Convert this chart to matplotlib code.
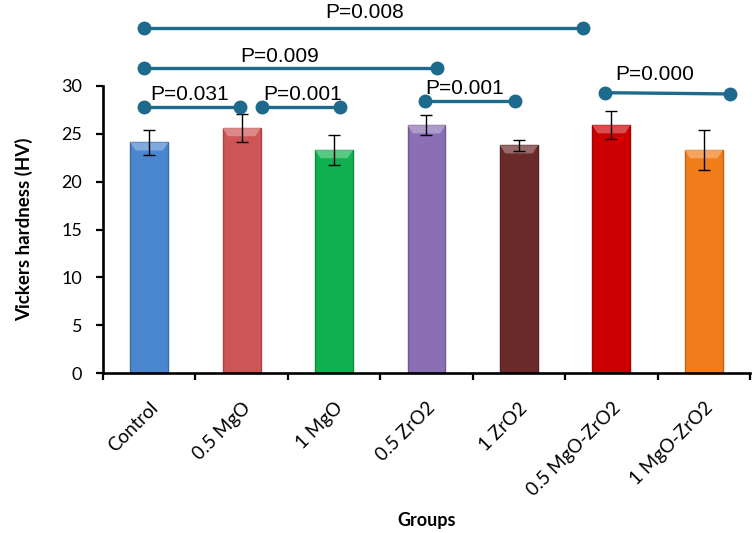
import matplotlib
matplotlib.use("Agg")
import matplotlib.pyplot as plt
from matplotlib.colors import to_rgb
from matplotlib.patches import Polygon

# values
groups = ["Control", "0.5 MgO", "1 MgO", "0.5 ZrO2", "1 ZrO2", "0.5 MgO-ZrO2", "1 MgO-ZrO2"]
hardness = [24.1, 25.6, 23.3, 25.9, 23.8, 25.9, 23.3]
hardness_sd = [1.3, 1.5, 1.6, 1.05, 0.55, 1.45, 2.1]
colors = ["#4a86d0", "#cd5555", "#10b050", "#8b6fb4", "#6b2b2b", "#cc0000", "#f07d1a"]

p_labels = ["P=0.031", "P=0.001", "P=0.009", "P=0.008", "P=0.001", "P=0.000"]
# bracket ends (x in category units) and heights, as drawn in the reference
p_x = [(-0.06, 0.98), (1.22, 2.06), (-0.06, 3.11), (-0.06, 4.69), (2.98, 3.96), (4.93, 6.28)]
p_y = [(27.76, 27.76), (27.8, 27.8), (31.9, 31.9), (36.08, 36.08), (28.45, 28.45), (29.3, 29.17)]
p_text = [(0.44, 28.53), (1.66, 28.53), (1.41, 32.5), (2.33, 37.1), (3.41, 29.15), (5.47, 30.6)]

line_color = "#1d6a8c"


def shade(c, f):
    r, g, b = to_rgb(c)
    if f > 1:
        return tuple(v + (1 - v) * (f - 1) for v in (r, g, b))
    return (r * f, g * f, b * f)


fig = plt.figure(figsize=(7.56, 5.33), dpi=100)
ax = fig.add_axes([103 / 756, 1 - 373 / 533, 647 / 756, 287 / 533])

x = list(range(len(groups)))
bars = ax.bar(x, hardness, width=0.41, color=colors,
              edgecolor=[shade(c, 0.8) for c in colors], linewidth=1, zorder=2)
ax.errorbar(x, hardness, yerr=hardness_sd, fmt="none", ecolor="black",
            elinewidth=1, capsize=4.5, capthick=1, zorder=4)

# light bevel on the top of every bar
for b, c in zip(bars, colors):
    x0, w, top = b.get_x(), b.get_width(), b.get_height()
    ins = w * 0.14
    ax.add_patch(Polygon([(x0, top), (x0 + w, top), (x0 + w - ins, top - 0.85),
                          (x0 + ins, top - 0.85)], closed=True,
                         facecolor=shade(c, 1.3), edgecolor="none", zorder=3))

ax.set_xlim(-0.5, len(groups) - 0.5)
ax.set_ylim(0, 30)
ax.set_yticks(range(0, 31, 5))

for s in ["top", "right"]:
    ax.spines[s].set_visible(False)
for s in ["left", "bottom"]:
    ax.spines[s].set_linewidth(1.9)

ax.set_xticks(x)
ax.set_xticklabels(groups, rotation=45, ha="right", rotation_mode="anchor",
                   fontsize=13.5, family="Lato")
ax.set_xticks([i - 0.5 for i in range(len(groups) + 1)], minor=True)
ax.tick_params(axis="x", which="major", length=0, pad=19)
ax.tick_params(axis="x", which="minor", length=5, width=1.6, direction="out")
ax.tick_params(axis="y", length=5, width=1.6, labelsize=13, pad=10)
for lab in ax.get_yticklabels():
    lab.set_family("Lato")

ax.set_ylabel("Vickers hardness (HV)", fontsize=13.5, fontweight="bold",
              family="Lato", labelpad=20)
ax.set_xlabel("Groups", fontsize=13, fontweight="bold", family="Lato", labelpad=9)

# significance brackets
for lab, (xa, xb), (ya, yb), (tx, ty) in zip(p_labels, p_x, p_y, p_text):
    ax.plot([xa, xb], [ya, yb], color=line_color, lw=2.4, marker="o",
            markersize=9, clip_on=False, zorder=5)
    ax.text(tx, ty, lab, ha="center", va="baseline", fontsize=15,
            family="Liberation Sans", clip_on=False)

fig.savefig("out.png", dpi=100)
